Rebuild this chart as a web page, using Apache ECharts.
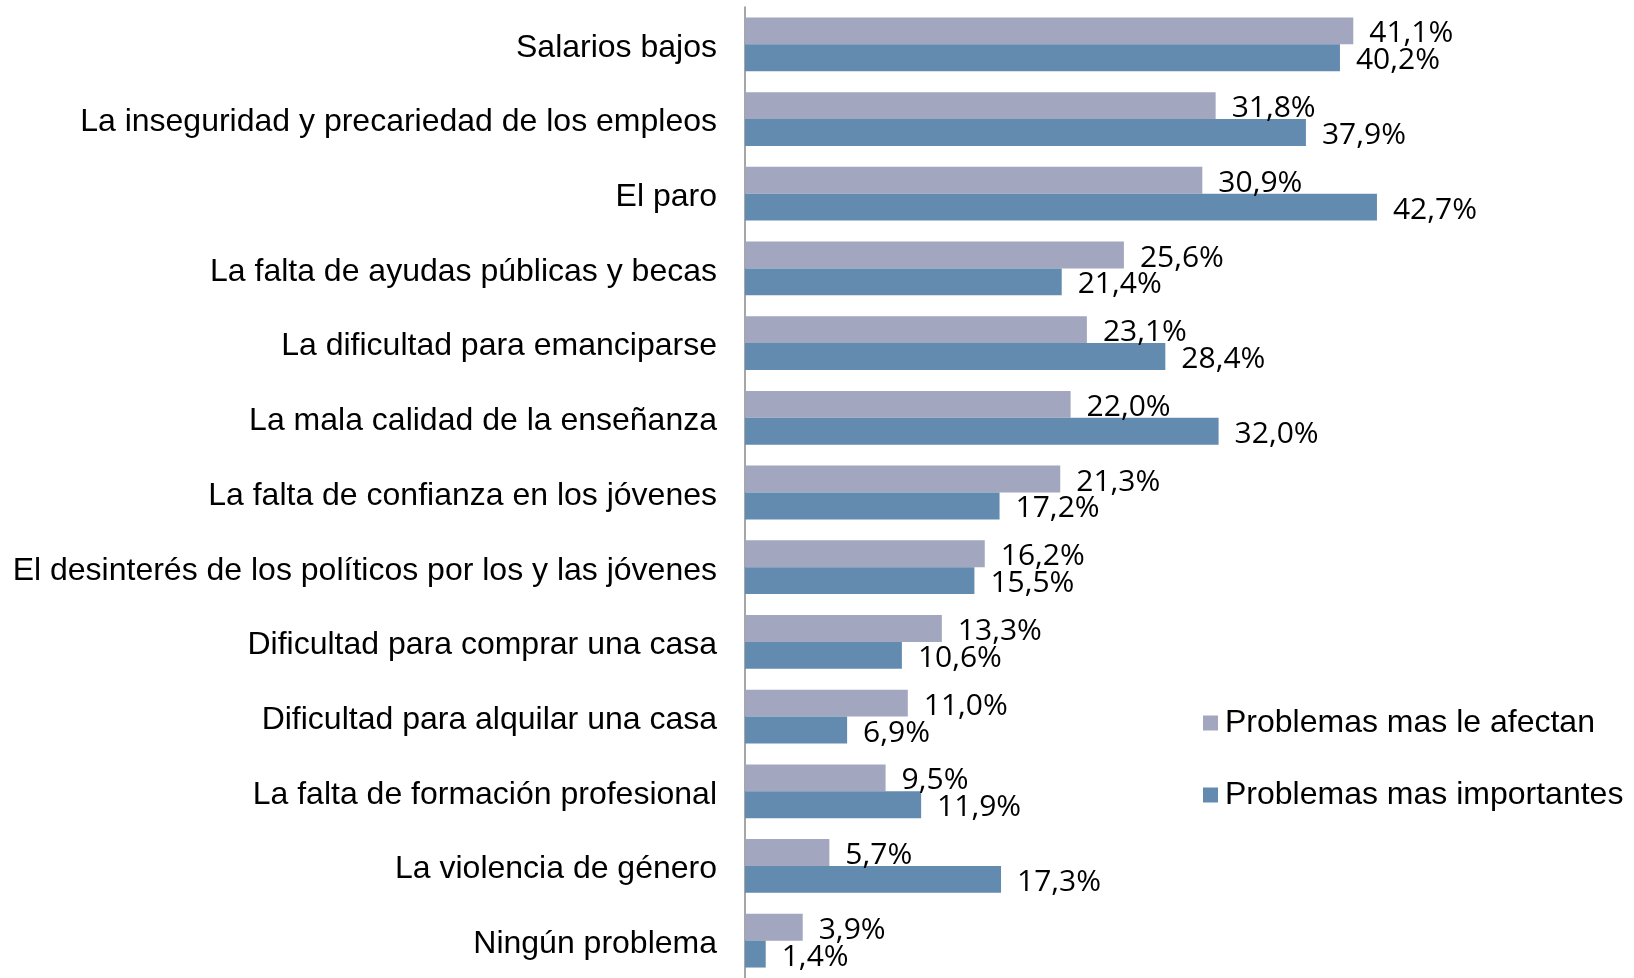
<!DOCTYPE html>
<html>
<head>
<meta charset="utf-8">
<script src="https://cdn.jsdelivr.net/npm/echarts@6/dist/echarts.min.js"></script>
<style>
  html, body { margin: 0; padding: 0; background: #fff; }
  #chart { width: 1634px; height: 978px; }
</style>
</head>
<body>
<div id="chart"></div>
<script>
// categorias (de arriba a abajo)
var categorias = [
    'Salarios bajos',
    'La inseguridad y precariedad de los empleos',
    'El paro',
    'La falta de ayudas públicas y becas',
    'La dificultad para emanciparse',
    'La mala calidad de la enseñanza',
    'La falta de confianza en los jóvenes',
    'El desinterés de los políticos por los y las jóvenes',
    'Dificultad para comprar una casa',
    'Dificultad para alquilar una casa',
    'La falta de formación profesional',
    'La violencia de género',
    'Ningún problema'
];
var serieNombres = ['Problemas mas le afectan', 'Problemas mas importantes'];
var afectan = [41.1, 31.8, 30.9, 25.6, 23.1, 22.0, 21.3, 16.2, 13.3, 11.0, 9.5, 5.7, 3.9];
var importantes = [40.2, 37.9, 42.7, 21.4, 28.4, 32.0, 17.2, 15.5, 10.6, 6.9, 11.9, 17.3, 1.4];

var myChart = echarts.init(document.getElementById('chart'));

// etiqueta con coma decimal
function fmt(p) {
    return p.value.toFixed(1).replace('.', ',') + '%';
}

var etiqueta = {
    show: true,
    position: 'right',
    distance: 16,
    offset: [0, 3],
    formatter: fmt,
    color: '#000',
    fontFamily: 'Open Sans',
    fontSize: 30
};

var option = {
    animation: false,
    grid: {
        left: 745,
        width: 740,
        top: 7,
        bottom: -8,
        containLabel: false
    },
    legend: {
        orient: 'vertical',
        left: 1198,
        top: 702,
        icon: 'rect',
        itemWidth: 15,
        itemHeight: 15,
        itemGap: 40,
        data: serieNombres,
        textStyle: {
            fontFamily: 'Liberation Sans',
            fontSize: 32,
            lineHeight: 30,
            color: '#000',
            padding: [0, 0, 0, 2]
        }
    },
    xAxis: {
        type: 'value',
        min: 0,
        max: 50,
        show: false
    },
    yAxis: {
        type: 'category',
        inverse: true,
        data: categorias,
        axisLine: { show: true, lineStyle: { color: '#888', width: 1.5 } },
        axisTick: { show: false },
        axisLabel: {
            margin: 28,
            color: '#000',
            fontFamily: 'Liberation Sans',
            fontSize: 32,
            formatter: function (v) { return '{c|' + v + '}'; },
            rich: {
                c: {
                    fontFamily: 'Liberation Sans',
                    fontSize: 32,
                    color: '#000',
                    padding: [7, 0, 0, 0]
                }
            }
        }
    },
    series: [{
        name: serieNombres[0],
        type: 'bar',
        data: afectan,
        barGap: '0%',
        barCategoryGap: '28%',
        itemStyle: { color: '#A2A6BE' },
        label: etiqueta
    }, {
        name: serieNombres[1],
        type: 'bar',
        data: importantes,
        barGap: '0%',
        barCategoryGap: '28%',
        itemStyle: { color: '#638BB0' },
        label: etiqueta
    }]
};

myChart.setOption(option);
</script>
</body>
</html>
